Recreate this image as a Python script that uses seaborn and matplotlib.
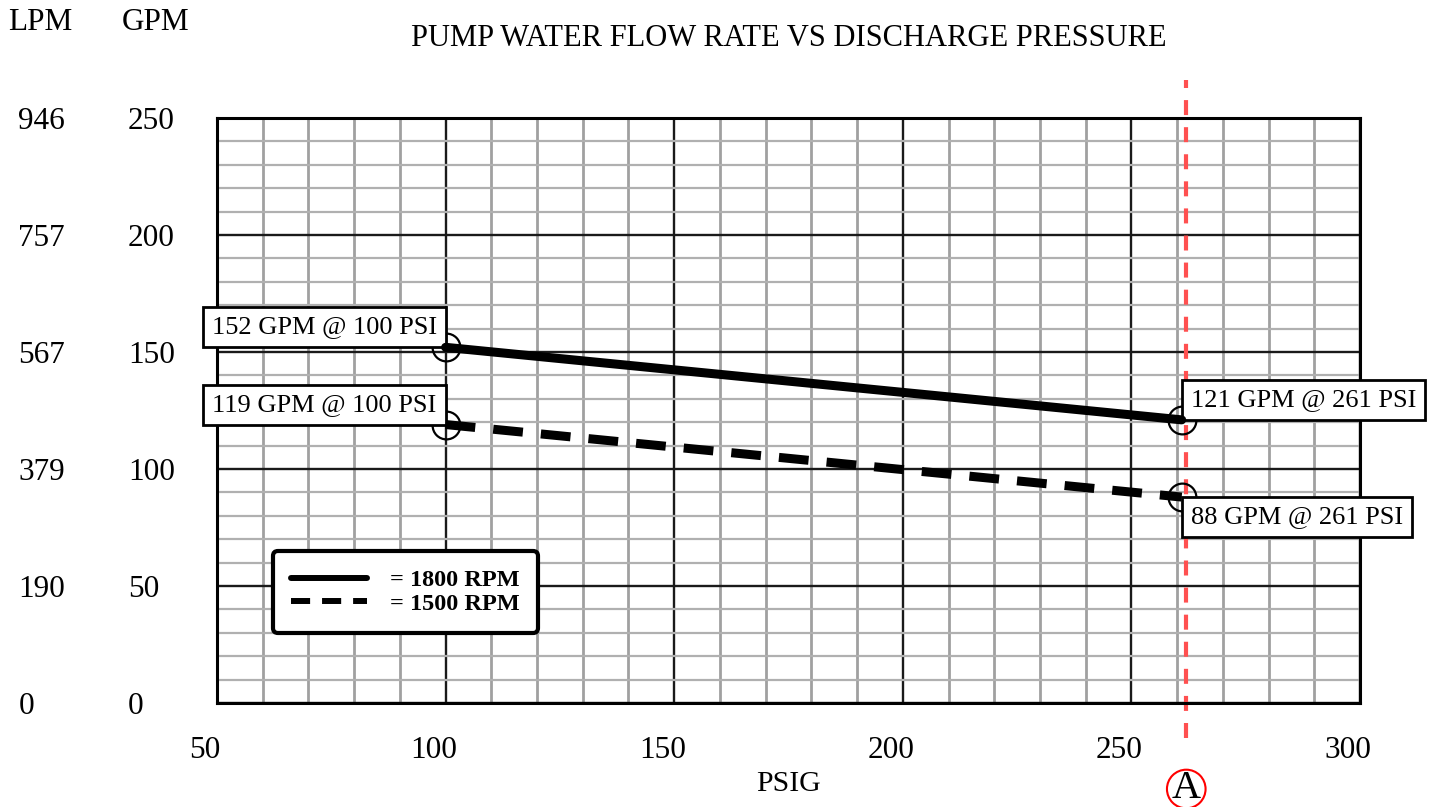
import numpy as np
import pandas as pd
import matplotlib
matplotlib.use('Agg')
import matplotlib.pyplot as plt
import matplotlib.transforms as mtrans
from matplotlib.lines import Line2D
import seaborn as sns

# Данные
psi = [100, 261]
gpm_1800 = [152, 121]
gpm_1500 = [119, 88]
rpm_labels = ['1800 RPM', '1500 RPM']

gpm_ticks = [0, 50, 100, 150, 200, 250]
lpm_labels = ['0', '190', '379', '567', '757', '946']
psi_ticks = [50, 100, 150, 200, 250, 300]
marker_psi = 262

df = pd.DataFrame({
    'PSIG': psi + psi,
    'GPM': gpm_1800 + gpm_1500,
    'RPM': [rpm_labels[0]] * len(psi) + [rpm_labels[1]] * len(psi),
})

sns.set_style('white')
plt.rcParams['font.family'] = ['Liberation Serif', 'DejaVu Serif']
plt.rcParams.update({'text.color': 'black', 'axes.labelcolor': 'black',
                     'xtick.color': 'black', 'ytick.color': 'black'})

fig = plt.figure(figsize=(14.4, 8.07), dpi=100)
ax = fig.add_axes([217 / 1440, 1 - 703 / 807, 1143 / 1440, 585 / 807])

# Сетка
ax.set_xlim(50, 300)
ax.set_ylim(0, 250)
ax.set_xticks(psi_ticks)
ax.set_xticks(np.arange(50, 301, 10), minor=True)
ax.set_yticks(gpm_ticks, labels=[str(t) for t in gpm_ticks])
ax.set_yticks(np.arange(0, 251, 10), minor=True)
ax.grid(which='minor', axis='x', color='#a0a0a0', lw=2.0)
ax.grid(which='minor', axis='y', color='#b0b0b0', lw=1.6)
ax.grid(which='major', color='#1a1a1a', lw=1.7)
ax.tick_params(which='both', length=0)
for s in ax.spines.values():
    s.set_visible(True)
    s.set_color('black')
    s.set_linewidth(2.2)

# Линии
sns.lineplot(data=df, x='PSIG', y='GPM', style='RPM',
             dashes={rpm_labels[0]: '', rpm_labels[1]: (3.3, 2.0)},
             color='black', linewidth=6.5, legend=False, ax=ax, zorder=5)

# Красная вертикаль A
ax.axvline(marker_psi, ymin=-0.06, ymax=1.065, clip_on=False, color='#ff5050',
           lw=3, dashes=(3.6, 2.9), zorder=2.5)
ax.text(marker_psi, -0.147, 'A', transform=mtrans.blended_transform_factory(ax.transData, ax.transAxes),
        ha='center', va='center', fontsize=29,
        bbox=dict(boxstyle='circle,pad=0.02', fc='white', ec='red', lw=1.5))

# Подписи точек
pad = 0.34
fs = 19
points = [(psi[0], gpm_1800[0], 'right', 'bottom'),
          (psi[0], gpm_1500[0], 'right', 'bottom'),
          (psi[1], gpm_1800[1], 'left', 'bottom'),
          (psi[1], gpm_1500[1], 'left', 'top')]
for x, y, ha, va in points:
    ax.plot([x], [y], marker='o', ms=20, mfc='none', mec='black', mew=1.6, zorder=3)
    dx = -pad * fs if ha == 'right' else pad * fs
    dy = pad * fs if va == 'bottom' else -pad * fs
    ax.annotate(f'{y} GPM @ {x} PSI', xy=(x, y), xytext=(dx, dy), textcoords='offset points',
                ha=ha, va=va, fontsize=fs, zorder=4,
                bbox=dict(boxstyle=f'square,pad={pad}', fc='white', ec='black', lw=2))

# Легенда
handles = [Line2D([], [], color='black', lw=4.3),
           Line2D([], [], color='black', lw=4.3, dashes=(3.2, 2.0))]
leg = ax.legend(handles, ['= ' + r for r in rpm_labels], loc='lower left',
                bbox_to_anchor=(0.049, 0.12), prop={'weight': 'bold', 'size': 17.5},
                handlelength=3.1, handletextpad=0.95, labelspacing=0.05,
                borderpad=0.75, borderaxespad=0, fancybox=True, framealpha=1)
leg.get_frame().set_edgecolor('black')
leg.get_frame().set_linewidth(3)
leg.set_zorder(6)

# Оси и подписи
ax.tick_params(axis='y', pad=64, labelsize=22.5)
for lab in ax.get_yticklabels():
    lab.set_horizontalalignment('left')
ax.tick_params(axis='x', pad=24, labelsize=22.5)
shift = mtrans.ScaledTranslation(-12 / 100, 0, fig.dpi_scale_trans)
for lab in ax.get_xticklabels():
    lab.set_transform(lab.get_transform() + shift)

sec = ax.secondary_yaxis('left')
sec.set_yticks(gpm_ticks, labels=lpm_labels)
sec.tick_params(length=0, pad=143, labelsize=22.5, colors='black')
sec.spines['left'].set_visible(False)
for lab in sec.get_yticklabels():
    lab.set_horizontalalignment('left')

ax.set_xlabel('PSIG', fontsize=21.5, labelpad=4)
ax.set_ylabel('')
ax.set_title('PUMP WATER FLOW RATE VS DISCHARGE PRESSURE', fontsize=22, pad=52)
fig.text(8 / 1440, 1 - 22 / 807, 'LPM', fontsize=22.5, ha='left', va='center')
fig.text(122 / 1440, 1 - 22 / 807, 'GPM', fontsize=22.5, ha='left', va='center')

fig.savefig('out.png', dpi=100, facecolor='white')
